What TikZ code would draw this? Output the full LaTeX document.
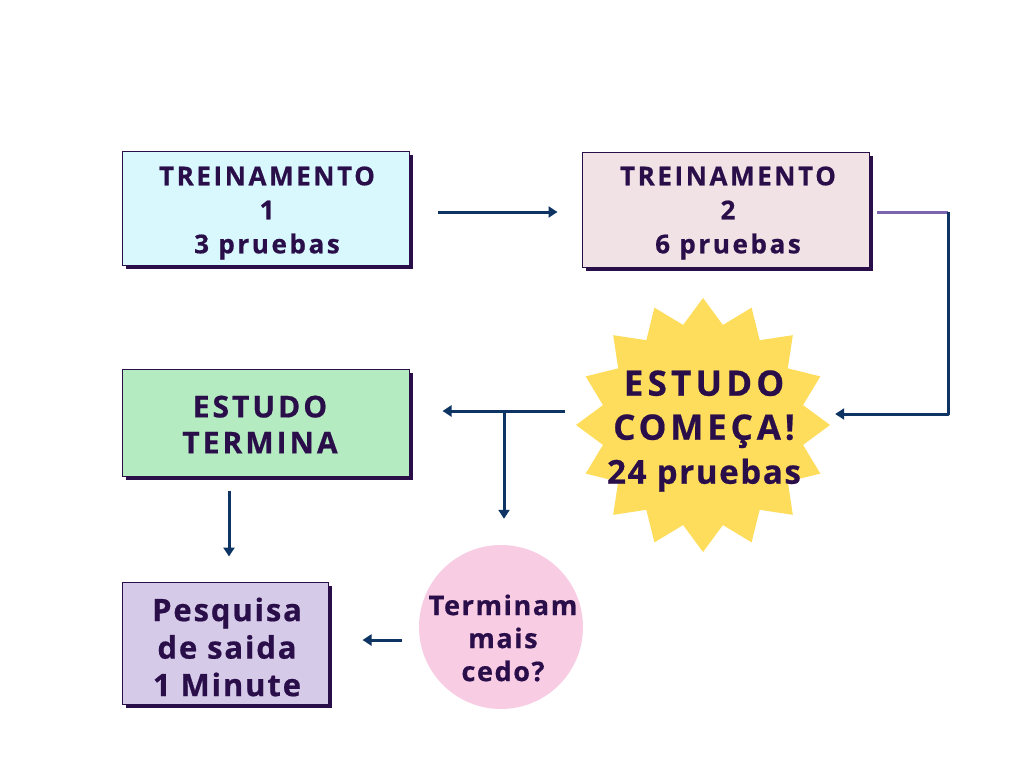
\documentclass[tikz,border=0pt]{standalone}
\usepackage{fontspec}
\setmainfont{Open Sans}
\newfontfamily\lab[LetterSpace=8, BoldFeatures={FakeBold=0.6}]{Open Sans}
\usetikzlibrary{arrows.meta,shadows}
\definecolor{ink}{HTML}{2A0E4A}
\definecolor{navy}{HTML}{0E3463}
\definecolor{lilac}{HTML}{7B64B0}
\definecolor{cyanf}{HTML}{D8F8FE}
\definecolor{rosef}{HTML}{F1E3E5}
\definecolor{greenf}{HTML}{B5EBC1}
\definecolor{lavf}{HTML}{D6CAE9}
\definecolor{pinkf}{HTML}{F8CDE4}
\definecolor{starf}{HTML}{FEDD5C}
\tikzset{
  box/.style={draw=ink, line width=1pt, inner sep=0pt,
    drop shadow={shadow xshift=4pt, shadow yshift=-4pt, fill=ink, opacity=1}},
  txt/.style={text=ink, align=center, inner sep=0pt},
  arr/.style={draw=navy, line width=3pt, -{Triangle[width=11pt,length=9pt]}},
}
\begin{document}
\begin{tikzpicture}[x=1pt,y=-1pt]
\useasboundingbox (0,0) rectangle (1024,768);
\fill[white] (0,0) rectangle (1024,768);
% boxes
\node[box, fill=cyanf, minimum width=287pt, minimum height=114pt] (b1) at (265.5,208) {};
\node[txt, font=\lab\bfseries\fontsize{26}{34}\selectfont\addfontfeature{LetterSpace=10}] (t1) at (267,213)
  {TREINAMENTO\\1\\3 pruebas};
\node[box, fill=rosef, minimum width=287pt, minimum height=115pt] (b2) at (725.5,209.5) {};
\node[txt, font=\lab\bfseries\fontsize{26}{34}\selectfont\addfontfeature{LetterSpace=10}] (t2) at (728,213)
  {TREINAMENTO\\2\\6 pruebas};
\node[box, fill=greenf, minimum width=287pt, minimum height=107pt] (b3) at (265.5,422.5) {};
\node[txt, font=\lab\bfseries\fontsize{30}{36}\selectfont\addfontfeature{LetterSpace=10}] (t3) at (260,424.5)
  {ESTUDO\\TERMINA};
\node[box, fill=lavf, minimum width=206pt, minimum height=122pt] (b4) at (225,643) {};
\node[txt, font=\lab\bfseries\fontsize{31}{37.5}\selectfont\addfontfeature{LetterSpace=6}] (t4) at (227,647)
  {Pesquisa\\de saida\\1 Minute};
\node[circle, fill=pinkf, minimum size=164pt, inner sep=-40pt] (circ) at (501,627) {};
\node[txt, font=\lab\bfseries\fontsize{27}{33}\selectfont\addfontfeature{LetterSpace=6}] (t5) at (503,638)
  {Terminam\\mais\\cedo?};
% star
\fill[starf] plot[samples=33, domain=0:32, variable=\k]
  ({703+(mod(\k,2)==0 ? 127 : 102)*sin(\k*11.25)}, {425-(mod(\k,2)==0 ? 127 : 102)*cos(\k*11.25)}) -- cycle;
\node[circle, minimum size=254pt, inner sep=-60pt] (star) at (703,425) {};
\node[txt, font=\lab\bfseries\fontsize{35}{44}\selectfont] (t6) at (704,431)
  {\addfontfeature{LetterSpace=12}ESTUDO\\\addfontfeature{LetterSpace=11}COMEÇA!\\\addfontfeature{LetterSpace=5}\fontsize{33}{42}\selectfont 24 pruebas};
% connectors
\draw[arr, shorten <=28pt, shorten >=24pt] ([yshift=-4pt]b1.east) -- ([yshift=-4pt]b1.east -| b2.west);
\coordinate (c1) at (948,212);
\draw[lilac, line width=3pt, shorten <=7pt] (b2.east |- c1) -- (c1);
\draw[arr, line join=round, shorten >=5pt] (c1) |- ([yshift=11pt]star.east);
\coordinate (j) at (504,411);
\draw[arr, shorten <=11pt, shorten >=33pt] ([yshift=14pt]star.west) -- (j) -- (j -| b3.east);
\draw[arr, shorten >=26pt] (j) -- (j |- circ.north);
\draw[arr, shorten <=14pt, shorten >=25pt] ([xshift=4pt]b3.south -| b4.north) -- ([xshift=4pt]b4.north);
\draw[arr, shorten <=17pt, shorten >=34pt] ([yshift=-13pt]circ.west) -- ([yshift=-13pt]circ.west -| b4.east);
\end{tikzpicture}
\end{document}
